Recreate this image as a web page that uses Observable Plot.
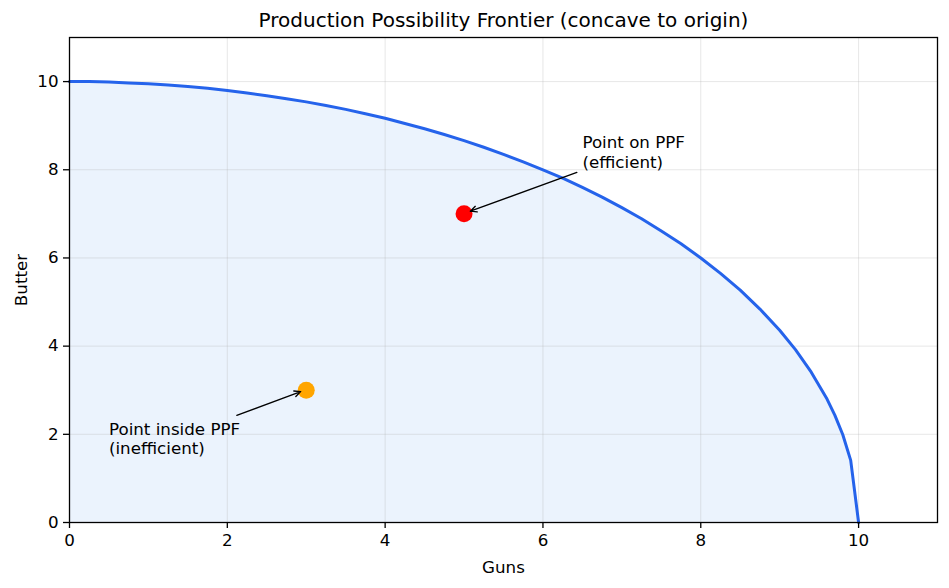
<!DOCTYPE html>
<html><head><meta charset="utf-8">
<script src="https://cdn.jsdelivr.net/npm/d3@7"></script>
<script src="https://cdn.jsdelivr.net/npm/@observablehq/plot@0.6"></script>
<style>body{margin:0;background:#fff;font-family:"DejaVu Sans",sans-serif}</style>
</head><body><div id="chart"></div>
<script>
const guns   = [0, 0.25, 0.5, 0.75, 1, 1.25, 1.5, 1.75, 2, 2.25, 2.5, 2.75, 3, 3.25, 3.5, 3.75, 4, 4.25, 4.5, 4.75, 5, 5.25, 5.5, 5.75, 6, 6.25, 6.5, 6.75, 7, 7.25, 7.5, 7.75, 8, 8.25, 8.5, 8.75, 9, 9.2, 9.4, 9.6, 9.7, 9.8, 9.9, 10];
const butter = [10, 10.0, 9.99, 9.97, 9.95, 9.92, 9.89, 9.85, 9.80, 9.74, 9.68, 9.61, 9.54, 9.46, 9.37, 9.27, 9.17, 9.05, 8.93, 8.80, 8.66, 8.51, 8.35, 8.18, 8.0, 7.81, 7.60, 7.38, 7.14, 6.89, 6.61, 6.32, 6.0, 5.65, 5.27, 4.84, 4.36, 3.92, 3.41, 2.80, 2.43, 1.99, 1.41, 0];
const pointLabels = ["Point on PPF\n(efficient)", "Point inside PPF\n(inefficient)"];
const pointX = [5, 3];
const pointY = [7, 3];
const pointColors = ["#ff0000", "#ffa500"];
const labelX = [6.5, 0.5];
const labelY = [8, 1.5];
const arrowX1 = [6.43, 2.12];
const arrowY1 = [7.94, 2.43];
const arrowX2 = [5.08, 2.93];
const arrowY2 = [7.06, 2.97];
const ticks = [0, 2, 4, 6, 8, 10];

const curve = guns.map((g, i) => ({x: g, y: butter[i]}));
const pts = pointX.map((x, i) => ({x, y: pointY[i], c: pointColors[i], label: pointLabels[i], lx: labelX[i], ly: labelY[i],
  x1: arrowX1[i], y1: arrowY1[i], x2: arrowX2[i], y2: arrowY2[i]}));

const FS = 16.7;
const chart = Plot.plot({
  width: 949, height: 588,
  marginLeft: 69, marginRight: 12, marginTop: 37, marginBottom: 66,
  style: {fontFamily: "DejaVu Sans, sans-serif", fontSize: FS + "px", color: "black", background: "white"},
  x: {domain: [0, 11], label: null},
  y: {domain: [0, 11], label: null},
  marks: [
    Plot.areaY(curve, {x: "x", y: "y", fill: "#ebf3fd"}),
    Plot.gridX(ticks, {stroke: "#b0b0b0", strokeOpacity: 0.3, strokeWidth: 1}),
    Plot.gridY(ticks, {stroke: "#b0b0b0", strokeOpacity: 0.3, strokeWidth: 1}),
    Plot.line(curve, {x: "x", y: "y", stroke: "#2563eb", strokeWidth: 3}),
    Plot.dot(pts, {x: "x", y: "y", r: 8.5, fill: "c", stroke: null}),
    Plot.arrow(pts, {x1: "x1", y1: "y1", x2: "x2", y2: "y2", stroke: "black", strokeWidth: 1.3, headLength: 8, headAngle: 50}),
    Plot.text(pts, {x: "lx", y: "ly", text: "label", textAnchor: "start", lineAnchor: "bottom", lineHeight: 1.17, dy: -2, fontSize: FS, fill: "black"}),
    Plot.frame({stroke: "black", strokeWidth: 1.3}),
    Plot.axisX(ticks, {tickSize: 6, tickPadding: 6, fontSize: FS, label: null, strokeWidth: 1.3}),
    Plot.axisY(ticks, {tickSize: 6, tickPadding: 5, fontSize: FS, label: null, strokeWidth: 1.3}),
    Plot.text(["Production Possibility Frontier (concave to origin)"], {frameAnchor: "top", lineAnchor: "middle", dy: -17, fontSize: 20, fill: "black"}),
    Plot.text(["Guns"], {frameAnchor: "bottom", lineAnchor: "middle", dy: 45, fontSize: FS, fill: "black"}),
    Plot.text(["Butter"], {frameAnchor: "left", textAnchor: "middle", lineAnchor: "middle", dx: -48, rotate: -90, fontSize: FS, fill: "black"})
  ]
});
document.getElementById("chart").append(chart);
</script></body></html>
